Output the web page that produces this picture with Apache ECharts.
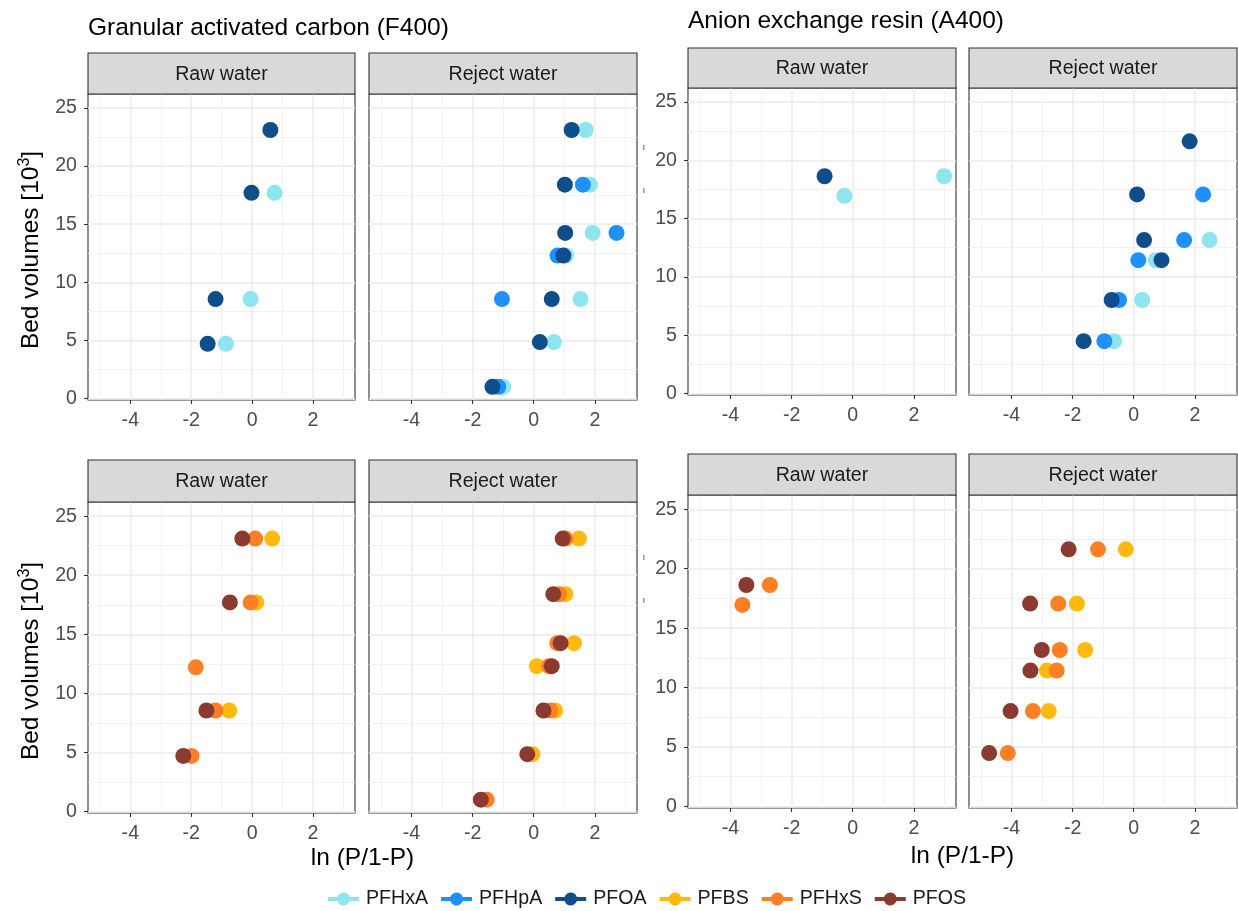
<!DOCTYPE html>
<html><head><meta charset="utf-8">
<script src="https://cdn.jsdelivr.net/npm/echarts@6/dist/echarts.min.js"></script>
<style>html,body{margin:0;padding:0;background:#fff}#c{width:1238px;height:911px}</style>
</head><body><div id="c"></div>
<script>
// ---------- data ----------
const compounds = ['PFHxA', 'PFHpA', 'PFOA', 'PFBS', 'PFHxS', 'PFOS'];
const compoundColors = ['#8EE5EE', '#1E90FF', '#104E8B', '#FFB90F', '#FF7F24', '#8B3A2F'];
const xTickValues = [-4, -2, 0, 2];
const xMinorValues = [-5, -3, -1, 1, 3];
const yTickValues = [0, 5, 10, 15, 20, 25];
const yMinorValues = [2.5, 7.5, 12.5, 17.5, 22.5];
const facetLabels = ['Raw water', 'Reject water'];

// Granular activated carbon (F400) – raw water (bed volumes, 10^3)
const gacRawBV = [4.7, 8.55, 12.2, 17.7, 23.1];
const gacRaw_PFHxA = [-0.86, -0.05, null, 0.74, null];
const gacRaw_PFHpA = [null, null, null, null, null];
const gacRaw_PFOA  = [-1.46, -1.20, null, -0.02, 0.60];
const gacRaw_PFBS  = [null, -0.75, null, 0.14, 0.66];
const gacRaw_PFHxS = [-1.99, -1.20, -1.85, -0.05, 0.10];
const gacRaw_PFOS  = [-2.26, -1.50, null, -0.73, -0.32];

// Granular activated carbon (F400) – reject water
const gacRejBV = [1.0, 4.85, 8.55, 12.3, 14.25, 18.4, 23.1];
const gacRej_PFHxA = [-1.00, 0.66, 1.53, 1.06, 1.93, 1.84, 1.70];
const gacRej_PFHpA = [-1.16, null, -1.04, 0.78, 2.71, 1.61, null];
const gacRej_PFOA  = [-1.35, 0.20, 0.59, 0.97, 1.03, 1.02, 1.24];
const gacRej_PFBS  = [null, -0.04, 0.70, 0.10, 1.32, 1.04, 1.48];
const gacRej_PFHxS = [-1.54, null, 0.55, 0.50, 0.77, 0.83, 1.04];
const gacRej_PFOS  = [-1.73, -0.21, 0.32, 0.59, 0.88, 0.64, 0.95];

// Anion exchange resin (A400) – raw water
const aerRawBV = [16.95, 18.63];
const aerRaw_PFHxA = [-0.27, 2.99];
const aerRaw_PFHpA = [null, null];
const aerRaw_PFOA  = [null, -0.92];
const aerRaw_PFBS  = [null, null];
const aerRaw_PFHxS = [-3.61, -2.71];
const aerRaw_PFOS  = [null, -3.48];

// Anion exchange resin (A400) – reject water
const aerRejBV = [4.49, 8.02, 11.43, 13.16, 17.07, 21.63];
const aerRej_PFHxA = [-0.64, 0.28, 0.72, 2.48, null, null];
const aerRej_PFHpA = [-0.96, -0.48, 0.15, 1.65, 2.27, null];
const aerRej_PFOA  = [-1.64, -0.72, 0.91, 0.34, 0.11, 1.83];
const aerRej_PFBS  = [null, -2.78, -2.84, -1.59, -1.86, -0.26];
const aerRej_PFHxS = [-4.12, -3.30, -2.52, -2.42, -2.47, -1.17];
const aerRej_PFOS  = [-4.73, -4.03, -3.38, -3.01, -3.39, -2.13];

// ---------- layout ----------
const FONT = '"Liberation Sans", Arial, Helvetica, sans-serif';
const XMIN = -5.39, XMAX = 3.38, YMIN = -0.13, YMAX = 26.2;

const panels = [
  {l: 88,  t: 94,  w: 267, h: 306, sT: 53,  facet: 0, yLab: true,  bv: gacRawBV, set: [gacRaw_PFHxA, gacRaw_PFHpA, gacRaw_PFOA], cmp: [0, 1, 2]},
  {l: 369, t: 94,  w: 268, h: 306, sT: 53,  facet: 1, yLab: false, bv: gacRejBV, set: [gacRej_PFHxA, gacRej_PFHpA, gacRej_PFOA], cmp: [0, 1, 2]},
  {l: 88,  t: 502, w: 267, h: 311, sT: 460, facet: 0, yLab: true,  bv: gacRawBV, set: [gacRaw_PFBS, gacRaw_PFHxS, gacRaw_PFOS], cmp: [3, 4, 5]},
  {l: 369, t: 502, w: 268, h: 311, sT: 460, facet: 1, yLab: false, bv: gacRejBV, set: [gacRej_PFBS, gacRej_PFHxS, gacRej_PFOS], cmp: [3, 4, 5]},
  {l: 688, t: 88,  w: 268, h: 307, sT: 48,  facet: 0, yLab: true,  bv: aerRawBV, set: [aerRaw_PFHxA, aerRaw_PFHpA, aerRaw_PFOA], cmp: [0, 1, 2]},
  {l: 969, t: 88,  w: 268, h: 307, sT: 48,  facet: 1, yLab: false, bv: aerRejBV, set: [aerRej_PFHxA, aerRej_PFHpA, aerRej_PFOA], cmp: [0, 1, 2]},
  {l: 688, t: 495, w: 268, h: 313, sT: 454, facet: 0, yLab: true,  bv: aerRawBV, set: [aerRaw_PFBS, aerRaw_PFHxS, aerRaw_PFOS], cmp: [3, 4, 5]},
  {l: 969, t: 495, w: 268, h: 313, sT: 454, facet: 1, yLab: false, bv: aerRejBV, set: [aerRej_PFBS, aerRej_PFHxS, aerRej_PFOS], cmp: [3, 4, 5]}
];

const grid = [], xAxis = [], yAxis = [], series = [], graphic = [];
const gridLineMajor = {color: '#EBEBEB', width: 1.5};
const gridLineMinor = {color: '#EFEFEF', width: 0.8};

panels.forEach((p, i) => {
  grid.push({left: p.l, top: p.t, width: p.w, height: p.h, show: true,
    borderColor: '#333333', borderWidth: 1.1, backgroundColor: '#FFFFFF', containLabel: false});
  xAxis.push({type: 'value', gridIndex: i, min: XMIN, max: XMAX, position: 'bottom',
    axisLine: {show: false, onZero: false},
    axisTick: {show: true, customValues: xTickValues, length: 4, lineStyle: {color: '#333333', width: 1.1}},
    axisLabel: {show: true, customValues: xTickValues, color: '#4D4D4D', fontSize: 19.6, fontFamily: FONT, margin: 11},
    splitLine: {show: true, lineStyle: gridLineMajor}});
  xAxis.push({type: 'value', gridIndex: i, min: XMIN, max: XMAX, position: 'top',
    axisLine: {show: false, onZero: false},
    axisTick: {show: false, customValues: xMinorValues},
    axisLabel: {show: false, customValues: xMinorValues},
    splitLine: {show: true, lineStyle: gridLineMinor}});
  yAxis.push({type: 'value', gridIndex: i, min: YMIN, max: YMAX, position: 'left',
    axisLine: {show: false, onZero: false},
    axisTick: {show: p.yLab, customValues: yTickValues, length: 4, lineStyle: {color: '#333333', width: 1.1}},
    axisLabel: {show: p.yLab, customValues: yTickValues, color: '#4D4D4D', fontSize: 19.6, fontFamily: FONT, margin: 11},
    splitLine: {show: true, lineStyle: gridLineMajor}});
  yAxis.push({type: 'value', gridIndex: i, min: YMIN, max: YMAX, position: 'right',
    axisLine: {show: false, onZero: false},
    axisTick: {show: false, customValues: yMinorValues},
    axisLabel: {show: false, customValues: yMinorValues},
    splitLine: {show: true, lineStyle: gridLineMinor}});

  p.set.forEach((xs, k) => {
    const ci = p.cmp[k];
    const data = [];
    p.bv.forEach((bv, j) => { if (xs[j] !== null) data.push([xs[j], bv]); });
    series.push({type: 'scatter', name: compounds[ci], xAxisIndex: 2 * i, yAxisIndex: 2 * i,
      data: data, symbol: 'circle', symbolSize: 16, z: 3,
      itemStyle: {color: compoundColors[ci], opacity: 1},
      emphasis: {disabled: true}, animation: false});
  });

  graphic.push({type: 'rect', shape: {x: p.l, y: p.sT, width: p.w, height: p.t - p.sT},
    style: {fill: '#D9D9D9', stroke: '#333333', lineWidth: 1.1}, z: 10, silent: true});
  graphic.push({type: 'text', x: p.l + p.w / 2, y: (p.sT + p.t) / 2 + 1,
    style: {text: facetLabels[p.facet], fill: '#1A1A1A', fontSize: 19.6, fontFamily: FONT,
      align: 'center', verticalAlign: 'middle'}, z: 11, silent: true});
});

graphic.push({type: 'text', x: 88, y: 28, style: {text: 'Granular activated carbon (F400)', fill: '#000',
  fontSize: 24.5, fontFamily: FONT, align: 'left', verticalAlign: 'middle'}, z: 11});
graphic.push({type: 'text', x: 688, y: 21, style: {text: 'Anion exchange resin (A400)', fill: '#000',
  fontSize: 24.5, fontFamily: FONT, align: 'left', verticalAlign: 'middle'}, z: 11});
graphic.push({type: 'text', x: 362.5, y: 858, style: {text: 'ln (P/1-P)', fill: '#000',
  fontSize: 24.5, fontFamily: FONT, align: 'center', verticalAlign: 'middle'}, z: 11});
graphic.push({type: 'text', x: 962.5, y: 856, style: {text: 'ln (P/1-P)', fill: '#000',
  fontSize: 24.5, fontFamily: FONT, align: 'center', verticalAlign: 'middle'}, z: 11});
[250, 661].forEach(cy => {
  graphic.push({type: 'text', x: 31, y: cy, rotation: Math.PI / 2,
    style: {text: '{a|Bed volumes [10}{b|3}{a|]}', align: 'center', verticalAlign: 'middle',
      rich: {a: {fontSize: 24.5, fontFamily: FONT, fill: '#000', color: '#000', lineHeight: 28},
             b: {fontSize: 16, fontFamily: FONT, fill: '#000', color: '#000', verticalAlign: 'top', lineHeight: 28}}}, z: 11});
});
[145, 188, 555, 598].forEach(yy => {
  graphic.push({type: 'rect', shape: {x: 643, y: yy, width: 1.5, height: 5},
    style: {fill: '#8C9AA8'}, z: 11, silent: true});
});

const ICON = 'path://M0,4.5 L9.32,4.5 A6.5,6.5 0 0 1 21.68,4.5 L31,4.5 L31,8.5 L21.68,8.5 A6.5,6.5 0 0 1 9.32,8.5 L0,8.5 Z';

const chart = echarts.init(document.getElementById('c'), null, {renderer: 'canvas'});
chart.setOption({
  backgroundColor: '#FFFFFF',
  animation: false,
  textStyle: {fontFamily: FONT},
  grid, xAxis, yAxis, series, graphic,
  legend: {data: compounds, left: 328, top: 889, padding: 0, orient: 'horizontal', icon: ICON,
    itemWidth: 31, itemHeight: 13, itemGap: 13, selectedMode: false,
    textStyle: {fontSize: 19.6, color: '#1A1A1A', fontFamily: FONT, padding: [0, 0, 0, 2]}}
});
</script></body></html>
